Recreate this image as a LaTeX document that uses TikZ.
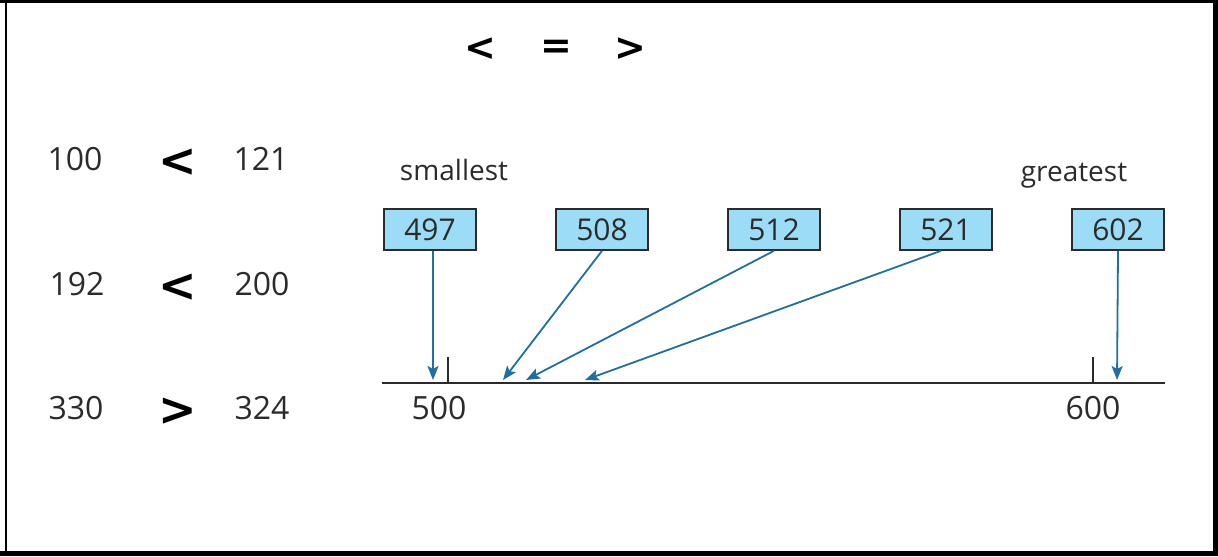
\documentclass[tikz,border=0pt]{standalone}
\usepackage{fontspec}
\setmainfont{Open Sans}
\newfontfamily\symfont{DejaVu Sans}
\usepackage{tikz}
\usetikzlibrary{positioning,arrows.meta}

\definecolor{boxblue}{HTML}{9DDCF6}
\definecolor{arrowblue}{HTML}{1F6FA0}
\definecolor{inkgray}{HTML}{2B2B2B}

\begin{document}
\begin{tikzpicture}[x=0.5pt, y=-0.5pt, node distance=86pt,
    num/.style={text=inkgray, font=\fontsize{16}{19}\selectfont},
    cmp/.style={text=black, font=\symfont\bfseries\fontsize{23}{27}\selectfont},
    sym/.style={text=black, font=\symfont\bfseries\fontsize{19}{22}\selectfont},
    card/.style={draw=inkgray, line width=0.8pt, fill=boxblue, minimum width=46pt,
        minimum height=20.5pt, inner sep=0pt, text=inkgray, font=\fontsize{15}{18}\selectfont},
    pointer/.style={-{Stealth[length=7pt,width=5.5pt,inset=1.5pt]}, arrowblue, line width=0.9pt}]
			\useasboundingbox (0,0) rectangle (1218,556);
			% frame
			\fill (0,0) rectangle (1218,3);
			\fill (1213,0) rectangle (1218,556);
			\fill (0,551) rectangle (1218,556);
			\fill (5,0) rectangle (7,556);

			\node[sym] (lt) at (480,49) {<};
			\node[sym] (eq) at (556,49) {=};
			\node[sym] (gt) at (630,49) {>};

			% comparisons
			\node[num] (n100) at (75,159) {100};
			\node[cmp] (c1) at (178,163) {<};
			\node[num] (n121) at (261,159) {121};
			\node[num] (n192) at (77,284) {192};
			\node[cmp] (c2) at (178,288) {<};
			\node[num] (n200) at (262,284) {200};
			\node[num] (n330) at (76,408) {330};
			\node[cmp] (c3) at (178,412) {>};
			\node[num] (n324) at (262,408) {324};

			\node[card] (b497) at (430,229.5) {497};
			\node[card] (b508) [right of=b497] {508};
			\node[card] (b512) [right of=b508] {512};
			\node[card] (b521) [right of=b512] {521};
			\node[card] (b602) [right of=b521] {602};

			\node[num, font=\fontsize{14}{17}\selectfont, anchor=base] (small) at (454,180) {smallest};
			\node[num, font=\fontsize{14}{17}\selectfont, anchor=base] (great) at (1074,181) {greatest};

			% number line
			\coordinate (lineL) at (382,383);
			\coordinate (lineR) at (1165,383);
			\coordinate (t500) at (448,383);
			\coordinate (t600) at (1093,383);
			\draw[inkgray, line width=1.2pt] (lineL) -- (lineR);
			\draw[inkgray, line width=1.1pt] (t500) -- ++(0,-26);
			\draw[inkgray, line width=1.1pt] (t600) -- ++(0,-26);
			\node[num] (l500) at (439,408) {500};
			\node[num] (l600) at (1093,408) {600};

			\coordinate (p497) at (433,380);
			\coordinate (p508) at (503,380);
			\coordinate (p512) at (526,380);
			\coordinate (p521) at (585,380);
			\coordinate (p602) at (1117,380);

			\draw[pointer] ([xshift=1.5pt]b497.south) -- (p497);
			\draw[pointer] (b508.south) -- (p508);
			\draw[pointer] (b512.south) -- (p512);
			\draw[pointer] ([xshift=-2.5pt]b521.south) -- (p521);
			\draw[pointer] (b602.south) -- (p602);
		\end{tikzpicture}
\end{document}
